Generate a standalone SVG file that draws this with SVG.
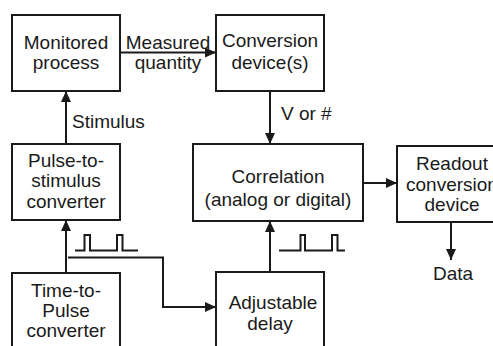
<svg xmlns="http://www.w3.org/2000/svg" width="493" height="346" viewBox="0 0 493 346">
<style>
.box{fill:#fff;stroke:#1a1a1a;stroke-width:2}
.ln{fill:none;stroke:#1a1a1a;stroke-width:2}
.pl{fill:none;stroke:#1a1a1a;stroke-width:2}
text{font-family:"Liberation Sans",Arial,sans-serif;font-size:19px;fill:#1a1a1a}
.c{text-anchor:middle}
</style>
<defs>
<marker id="ah" markerUnits="userSpaceOnUse" markerWidth="11" markerHeight="10" refX="11" refY="5" orient="auto">
<path d="M0,0 L11,5 L0,10 z" fill="#1a1a1a"/>
</marker>
</defs>
<rect width="493" height="346" fill="#fff"/>
<g id="connectors">
<line class="ln" x1="120" y1="52.5" x2="216" y2="52.5" marker-end="url(#ah)"/>
<line class="ln" x1="66" y1="144" x2="66" y2="91" marker-end="url(#ah)"/>
<line class="ln" x1="66" y1="273" x2="66" y2="220" marker-end="url(#ah)"/>
<polyline class="ln" points="68,257.5 163,257.5 163,307 216,307" marker-end="url(#ah)"/>
<line class="ln" x1="270" y1="91" x2="270" y2="144" marker-end="url(#ah)"/>
<line class="ln" x1="270" y1="272" x2="270" y2="221" marker-end="url(#ah)"/>
<line class="ln" x1="363" y1="183" x2="397" y2="183" marker-end="url(#ah)"/>
<line class="ln" x1="451" y1="222" x2="451" y2="260" marker-end="url(#ah)"/>
<text x="168" y="48.5" class="c">Measured</text>
<text x="168" y="68.5" class="c">quantity</text>
<text x="72" y="128">Stimulus</text>
<text x="281" y="120">V or #</text>
<text x="453" y="280" class="c">Data</text>
<polyline class="pl" points="75,250.5 84.5,250.5 84.5,235 90,235 90,250.5 117,250.5 117,235 122.5,235 122.5,250.5 138,250.5"/>
<polyline class="pl" points="279,250.5 300.5,250.5 300.5,235 305,235 305,250.5 332,250.5 332,235 337.5,235 337.5,250.5 345,250.5"/>
</g>
<g id="monitored">
<rect class="box" x="12" y="15" width="108" height="76"/>
<text x="66" y="48.5" class="c">Monitored</text>
<text x="66" y="68.5" class="c">process</text>
</g>
<g id="conversion">
<rect class="box" x="216" y="15" width="108" height="76"/>
<text x="270" y="47" class="c">Conversion</text>
<text x="270" y="68.5" class="c">device(s)</text>
</g>
<g id="pulse-to-stimulus">
<rect class="box" x="12" y="144" width="108" height="76"/>
<text x="66" y="166.5" class="c">Pulse-to-</text>
<text x="66" y="187" class="c">stimulus</text>
<text x="66" y="208" class="c">converter</text>
</g>
<g id="correlation">
<rect class="box" x="193" y="144" width="170" height="77"/>
<text x="278" y="183" class="c">Correlation</text>
<text x="278" y="206" class="c">(analog or digital)</text>
</g>
<g id="readout">
<rect class="box" x="397" y="146" width="108" height="76"/>
<text x="452" y="170" class="c">Readout</text>
<text x="452" y="190.5" class="c">conversion</text>
<text x="452" y="211" class="c">device</text>
</g>
<g id="time-to-pulse">
<rect class="box" x="12" y="273" width="108" height="76"/>
<text x="66" y="296.5" class="c">Time-to-</text>
<text x="66" y="316.5" class="c">Pulse</text>
<text x="66" y="337" class="c">converter</text>
</g>
<g id="delay">
<rect class="box" x="216" y="272" width="108" height="76"/>
<text x="273" y="308.5" class="c">Adjustable</text>
<text x="270" y="330" class="c">delay</text>
</g>
</svg>
